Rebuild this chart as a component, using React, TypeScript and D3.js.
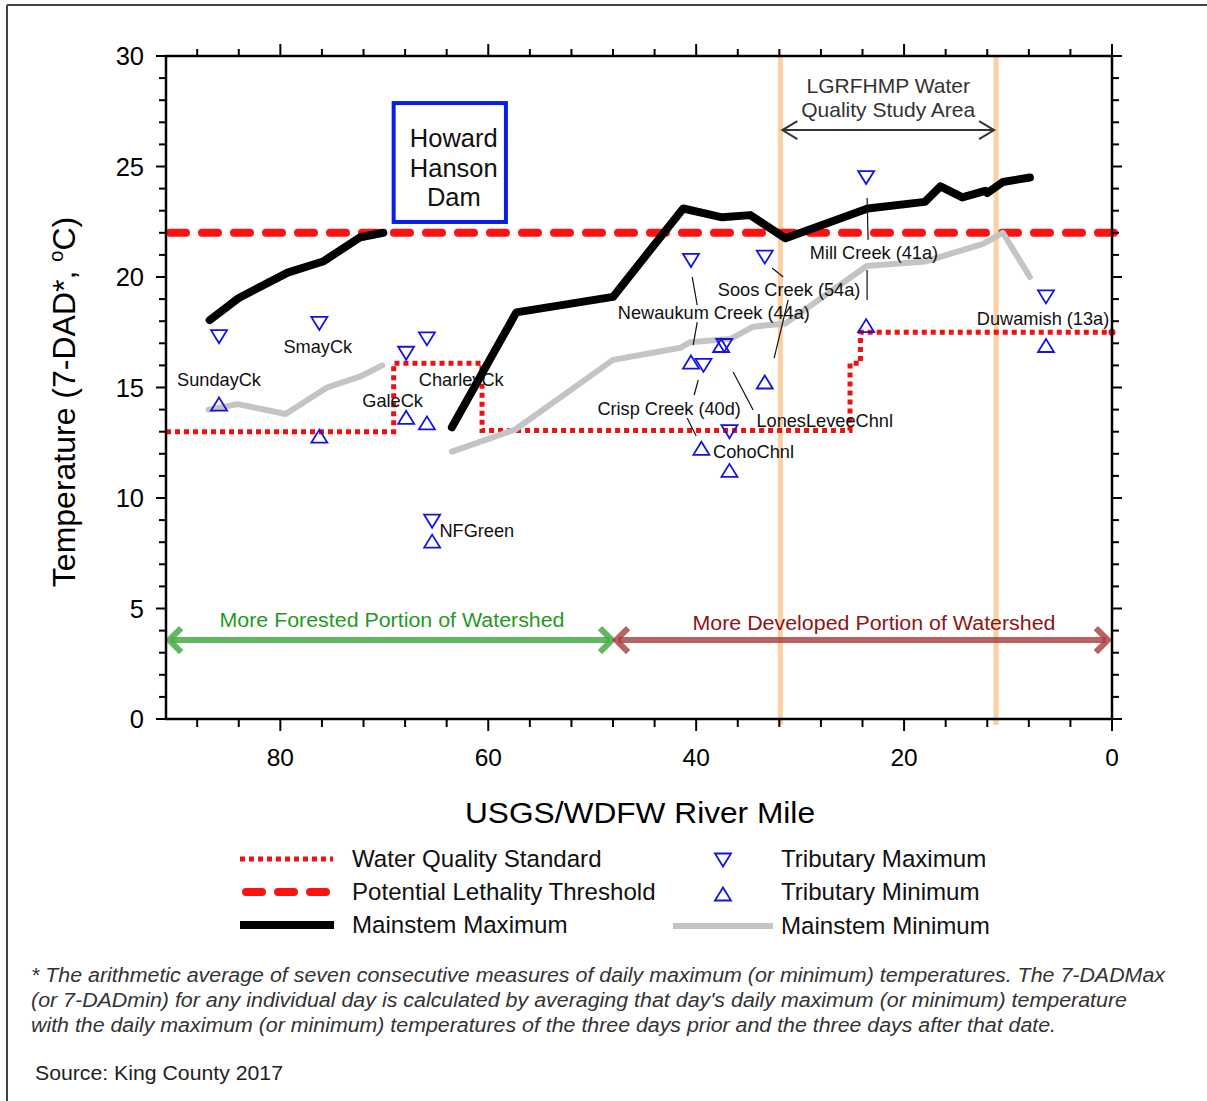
import React from "react";
import * as d3 from "d3";

// ---------- DATA ----------
const xTickMajor = [80, 60, 40, 20, 0];
const yTickMajor = [0, 5, 10, 15, 20, 25, 30];

// Mainstem maximum (river mile, temp) – two segments (above / below dam)
const mainMaxUpper: [number, number][] = [
  [86.8, 18.05], [84.0, 19.05], [79.3, 20.2], [75.9, 20.7], [72.3, 21.8], [70.1, 22.0],
];
const mainMaxLower: [number, number][] = [
  [63.5, 13.2], [57.3, 18.4], [48.0, 19.1], [41.25, 23.1], [37.5, 22.7], [34.8, 22.8],
  [31.4, 21.75], [23.5, 23.1], [18.0, 23.4], [16.5, 24.1], [14.4, 23.6], [12.2, 23.9],
  [12.0, 23.8], [10.5, 24.3], [7.9, 24.5],
];
const mainMinUpper: [number, number][] = [
  [86.9, 14.0], [84.1, 14.25], [79.5, 13.8], [75.5, 15.0], [72.3, 15.5], [70.2, 16.0],
];
const mainMinLower: [number, number][] = [
  [63.5, 12.1], [57.4, 13.1], [48.0, 16.25], [41.5, 16.8], [40.6, 17.05], [36.7, 17.2],
  [34.5, 17.75], [31.4, 17.9], [23.6, 20.5], [18.0, 20.7], [12.4, 21.5], [10.5, 22.0],
  [7.9, 20.0],
];
// Water quality standard (step)
const standardSteps: [number, number][] = [
  [91, 13.0], [69.1, 13.0], [69.1, 16.1], [60.6, 16.1], [60.6, 13.05], [25.2, 13.05],
  [25.2, 16.1], [24.2, 16.1], [24.2, 17.5], [0, 17.5],
];
const lethalityThreshold = 22;
const studyAreaBounds = [31.9, 11.15];

// Tributaries
const tribNames = ["SundayCk", "SmayCk", "GaleCk", "CharleyCk", "NFGreen", "Newaukum Creek (44a)",
  "Crisp Creek (40d)", "CohoChnl", "LonesLeveeChnl", "Soos Creek (54a)", "Mill Creek (41a)", "Duwamish (13a)"];
const tribMaxMile = [85.9, 76.25, 67.9, 65.9, 65.4, 40.5, 39.3, 36.8, 37.3, 33.4, 23.65, 6.35];
const tribMaxTemp = [17.3, 17.9, 16.55, 17.2, 8.95, 20.75, 16.0, 13.0, 16.9, 20.9, 24.5, 19.1];
const tribMinMile = [85.9, 76.25, 67.9, 65.9, 65.4, 40.5, 39.5, 36.8, 37.6, 33.4, 23.65, 6.35];
const tribMinTemp = [14.25, 12.8, 13.65, 13.4, 8.05, 16.15, 12.25, 11.25, 16.9, 15.25, 17.8, 16.9];

// Label anchors (mile, temp at baseline, anchor)
const tribLabelMile = [85.9, 76.4, 69.2, 62.6, 64.7, 38.3, 42.6, 38.37, 27.64, 31.06, 22.9, 6.63];
const tribLabelTemp = [15.07, 16.56, 14.12, 15.07, 8.24, 18.1, 13.76, 11.81, 13.21, 19.14, 20.8, 17.83];
const tribLabelAnchor = ["middle", "middle", "middle", "middle", "start", "middle", "middle", "start",
  "middle", "middle", "middle", "middle"];

// Leader lines [mile1, temp1, mile2, temp2]
const leaderLines: [number, number, number, number][] = [
  [40.38, 20.0, 39.9, 18.73], [39.9, 17.96, 40.29, 16.92],
  [32.69, 20.41, 31.63, 20.0], [31.15, 18.96, 32.5, 16.33],
  [23.56, 23.57, 23.46, 21.67], [23.56, 20.32, 23.56, 18.96],
  [39.8, 15.34, 40.19, 14.66], [40.87, 13.62, 40.0, 12.81],
  [36.44, 15.7, 34.52, 13.98],
];

const footnoteLines = [
  "* The arithmetic average of seven consecutive measures of daily maximum (or minimum) temperatures. The 7-DADMax",
  "(or 7-DADmin) for any individual day is calculated by averaging that day's daily maximum (or minimum) temperature",
  "with the daily maximum (or minimum) temperatures of the three days prior and the three days after that date.",
];
const footnoteWidths = [1134, 1096, 1025];

// ---------- CHART ----------
const W = 1207;
const H = 1101;
const FONT = "Arial, 'Liberation Sans', Helvetica, sans-serif";

export default function App() {
  const x = d3.scaleLinear().domain([91, 0]).range([166, 1112]);
  const y = d3.scaleLinear().domain([0, 30]).range([719, 56]);
  const line = d3.line<[number, number]>().x((d) => x(d[0])).y((d) => y(d[1]));

  const xMinor = d3.range(0, 89, 4);
  const yMinor = d3.range(0, 31, 1);

  const tri = (cx: number, cy: number, down: boolean, s = 8) => {
    const h = 13;
    return down
      ? `M${cx - s},${cy - h / 2}L${cx + s},${cy - h / 2}L${cx},${cy + h / 2}Z`
      : `M${cx - s},${cy + h / 2}L${cx + s},${cy + h / 2}L${cx},${cy - h / 2}Z`;
  };

  const chevL = (px: number, py: number, color: string, len = 12, hh = 12, sw = 6) => (
    <path d={`M${px + len},${py - hh}L${px},${py}L${px + len},${py + hh}`} fill="none" stroke={color}
      strokeWidth={sw} strokeLinejoin="miter" strokeLinecap="butt" />
  );
  const chevR = (px: number, py: number, color: string, len = 12, hh = 12, sw = 6) => (
    <path d={`M${px - len},${py - hh}L${px},${py}L${px - len},${py + hh}`} fill="none" stroke={color}
      strokeWidth={sw} strokeLinejoin="miter" strokeLinecap="butt" />
  );

  const x0 = x(91), x1 = x(0), y0 = y(0), y1 = y(30);
  const arrowY = y(3.57);
  const greenC = "rgba(70,170,70,0.85)";
  const redC = "rgba(165,60,60,0.8)";
  const studyY = y(26.65);

  return (
    <svg width={W} height={H} style={{ position: "absolute", left: 0, top: 0, display: "block", background: "#fff" }}
      fontFamily={FONT}>
      <rect x={0} y={0} width={W} height={H} fill="#fff" />
      {/* outer frame */}
      <line x1={7} y1={5} x2={W} y2={5} stroke="#444" strokeWidth={2} />
      <line x1={7} y1={5} x2={7} y2={H} stroke="#444" strokeWidth={2} />

      {/* study area vertical bands */}
      {studyAreaBounds.map((m) => (
        <line key={m} x1={x(m)} x2={x(m)} y1={y1} y2={y0 + 6} stroke="#fbd0a2" strokeWidth={5} />
      ))}

      {/* water quality standard */}
      <path d={line(standardSteps) || ""} fill="none" stroke="#ee1111" strokeWidth={5} strokeDasharray="5 4" />
      <circle cx={x(0)} cy={y(17.5)} r={3.5} fill="#ee1111" />
      {/* lethality threshold */}
      <line x1={x0 + 4} x2={x1 + 4} y1={y(lethalityThreshold)} y2={y(lethalityThreshold)} stroke="#ff1111"
        strokeWidth={8} strokeDasharray="16 16" strokeLinecap="round" />

      {/* mainstem minimum */}
      {[mainMinUpper, mainMinLower].map((seg, i) => (
        <path key={"mn" + i} d={line(seg) || ""} fill="none" stroke="#c4c4c4" strokeWidth={6}
          strokeLinecap="round" strokeLinejoin="round" />
      ))}
      {/* mainstem maximum */}
      {[mainMaxUpper, mainMaxLower].map((seg, i) => (
        <path key={"mx" + i} d={line(seg) || ""} fill="none" stroke="#000" strokeWidth={8}
          strokeLinecap="round" strokeLinejoin="round" />
      ))}

      {/* leader lines */}
      {leaderLines.map((l, i) => (
        <line key={"ld" + i} x1={x(l[0])} y1={y(l[1])} x2={x(l[2])} y2={y(l[3])} stroke="#111" strokeWidth={1.2} />
      ))}

      {/* tributary markers */}
      {tribNames.map((n, i) => (
        <g key={"tr" + i}>
          <path d={tri(x(tribMaxMile[i]), y(tribMaxTemp[i]), true)} fill="none" stroke="#1414e0" strokeWidth={1.8} />
          <path d={tri(x(tribMinMile[i]), y(tribMinTemp[i]), false)} fill="none" stroke="#1414e0" strokeWidth={1.8} />
        </g>
      ))}
      {/* tributary labels */}
      {tribNames.map((n, i) => (
        <text key={"tl" + i} x={x(tribLabelMile[i])} y={y(tribLabelTemp[i])} textAnchor={tribLabelAnchor[i] as any}
          fontSize={18.2} fill="#111">{n}</text>
      ))}

      {/* Howard Hanson Dam */}
      <rect x={x(69.1)} y={y(27.87)} width={x(58.3) - x(69.1)} height={y(22.49) - y(27.87)} fill="#fff"
        stroke="#0a1ee8" strokeWidth={4} />
      {["Howard", "Hanson", "Dam"].map((t, i) => (
        <text key={t} x={(x(69.1) + x(58.3)) / 2 + 4} y={147 + i * 29.5} textAnchor="middle" fontSize={25.5} fill="#111">{t}</text>
      ))}

      {/* LGRFHMP study area */}
      <text x={(x(studyAreaBounds[0]) + x(studyAreaBounds[1])) / 2} y={93} textAnchor="middle" fontSize={21} fill="#333">LGRFHMP Water</text>
      <text x={(x(studyAreaBounds[0]) + x(studyAreaBounds[1])) / 2} y={117} textAnchor="middle" fontSize={21} fill="#333">Quality Study Area</text>
      <line x1={x(studyAreaBounds[0]) + 2} x2={x(studyAreaBounds[1]) - 2} y1={studyY} y2={studyY} stroke="#333" strokeWidth={2} />
      {chevL(x(studyAreaBounds[0]) + 2, studyY, "#333", 15, 9, 2)}
      {chevR(x(studyAreaBounds[1]) - 2, studyY, "#333", 15, 9, 2)}

      {/* watershed arrows */}
      <line x1={x(90.7) + 2} x2={x(48.1) - 2} y1={arrowY} y2={arrowY} stroke={greenC} strokeWidth={6} />
      {chevL(x(90.7), arrowY, greenC)}
      {chevR(x(48.1), arrowY, greenC)}
      <text x={392} y={627} textAnchor="middle" fontSize={20} fill="#1f9a1f" textLength={345} lengthAdjust="spacingAndGlyphs">More Forested Portion of Watershed</text>
      <line x1={x(47.7) + 2} x2={x(0.4) - 2} y1={arrowY} y2={arrowY} stroke={redC} strokeWidth={6} />
      {chevL(x(47.7), arrowY, redC)}
      {chevR(x(0.4), arrowY, redC)}
      <text x={874} y={630} textAnchor="middle" fontSize={20} fill="#8e1414" textLength={363} lengthAdjust="spacingAndGlyphs">More Developed Portion of Watershed</text>

      {/* axes frame */}
      <rect x={x0} y={y1} width={x1 - x0} height={y0 - y1} fill="none" stroke="#000" strokeWidth={2.5} />
      {/* x ticks bottom and top */}
      {xMinor.map((m) => {
        const major = xTickMajor.includes(m);
        return (
          <g key={"xt" + m}>
            <line x1={x(m)} x2={x(m)} y1={y0} y2={y0 + (major ? 12 : 8)} stroke="#000" strokeWidth={2} />
            <line x1={x(m)} x2={x(m)} y1={y1} y2={y1 - (major ? 12 : 7)} stroke="#000" strokeWidth={2} />
          </g>
        );
      })}
      {xTickMajor.map((m) => (
        <text key={"xl" + m} x={x(m)} y={766} textAnchor="middle" fontSize={24.5} fill="#000">{m}</text>
      ))}
      {/* y ticks left & right */}
      {yMinor.map((t) => {
        const major = yTickMajor.includes(t);
        return (
          <g key={"yt" + t}>
            <line x1={x0} x2={x0 - (major ? 10 : 7)} y1={y(t)} y2={y(t)} stroke="#000" strokeWidth={2} />
            <line x1={x1} x2={x1 + (major ? 10 : 7)} y1={y(t)} y2={y(t)} stroke="#000" strokeWidth={2} />
          </g>
        );
      })}
      {yTickMajor.map((t) => (
        <text key={"yl" + t} x={144} y={y(t) + 9} textAnchor="end" fontSize={25.5} fill="#000">{t}</text>
      ))}

      {/* axis titles */}
      <text x={640} y={823} textAnchor="middle" fontSize={29} fill="#000" textLength={350} lengthAdjust="spacingAndGlyphs">USGS/WDFW River Mile</text>
      <text transform="translate(75,402) rotate(-90)" textAnchor="middle" fontSize={32} fill="#000">
        Temperature (7-DAD*,{" "}
        <tspan dy={-12} fontSize={20}>o</tspan>
        <tspan dy={12}>C)</tspan>
      </text>

      {/* legend */}
      <line x1={240} x2={333} y1={859} y2={859} stroke="#ee1111" strokeWidth={5} strokeDasharray="5 4" />
      <text x={352} y={867} fontSize={24.1} fill="#111">Water Quality Standard</text>
      <line x1={246} x2={328} y1={892} y2={892} stroke="#ff1111" strokeWidth={8} strokeDasharray="16 16" strokeLinecap="round" />
      <text x={352} y={900} fontSize={24.1} fill="#111">Potential Lethality Threshold</text>
      <line x1={240} x2={334} y1={925} y2={925} stroke="#000" strokeWidth={8} />
      <text x={352} y={933} fontSize={24.1} fill="#111">Mainstem Maximum</text>
      <path d={tri(723, 860, true)} fill="none" stroke="#1414e0" strokeWidth={1.8} />
      <text x={781} y={867} fontSize={24.1} fill="#111">Tributary Maximum</text>
      <path d={tri(723, 894, false)} fill="none" stroke="#1414e0" strokeWidth={1.8} />
      <text x={781} y={900} fontSize={24.1} fill="#111">Tributary Minimum</text>
      <line x1={673} x2={773} y1={926} y2={926} stroke="#c4c4c4" strokeWidth={6} />
      <text x={781} y={934} fontSize={24.1} fill="#111">Mainstem Minimum</text>

      {/* footnote */}
      {footnoteLines.map((l, i) => (
        <text key={"fn" + i} x={31} y={982 + i * 25} fontSize={20} fontStyle="italic" fill="#333"
          textLength={footnoteWidths[i]} lengthAdjust="spacingAndGlyphs">{l}</text>
      ))}
      <text x={35} y={1080} fontSize={20.5} fill="#222" textLength={248} lengthAdjust="spacingAndGlyphs">Source: King County 2017</text>
    </svg>
  );
}
